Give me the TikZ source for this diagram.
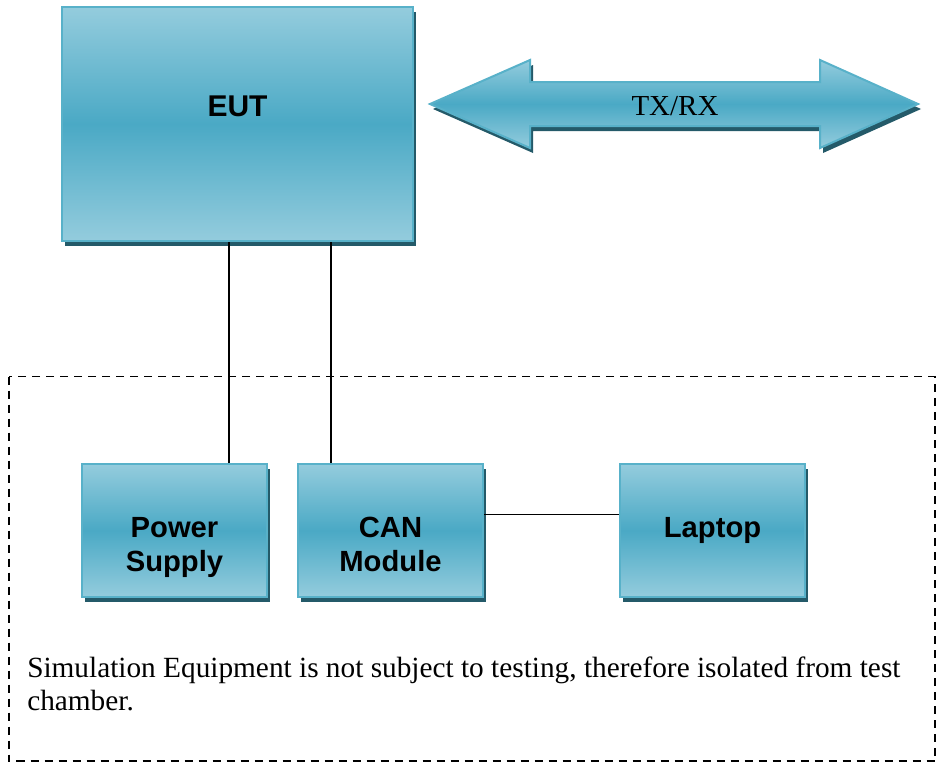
\documentclass[tikz,border=0pt]{standalone}
\usepackage{fontspec}
\setmainfont{Liberation Serif}
\setsansfont{Liberation Sans}
\usetikzlibrary{positioning, shadows}
\definecolor{boxlight}{HTML}{94CCDD}
\definecolor{boxmid}{HTML}{4AA9C5}
\definecolor{boxedge}{HTML}{58B1C9}
\definecolor{boxshade}{HTML}{245A69}
\tikzset{every picture/.style={line width=0.75pt}}

\begin{document}
\begin{tikzpicture}[x=0.5pt, y=-0.5pt,
        bluefill/.style={draw=boxedge, line width=1pt, top color=boxlight, bottom color=boxlight, middle color=boxmid,
            drop shadow={shadow xshift=1.5pt, shadow yshift=-2.5pt, fill=boxshade, opacity=1}},
        unit/.style={bluefill, font=\sffamily\bfseries\fontsize{14.6}{17}\selectfont, align=center, inner sep=0pt},
        device/.style={unit, minimum width=92.5pt, minimum height=66.5pt, text height=10pt, text depth=3.2pt},
        twoline/.style={text height=43.5pt, text depth=3pt},
        wire/.style={line width=0.7pt},
        node distance=14.5pt]
        \useasboundingbox (0,0) rectangle (940,762);

        \node[unit, font=\sffamily\bfseries\fontsize{15}{18}\selectfont, minimum width=175.5pt, minimum height=117pt,
            text height=12pt, text depth=20pt] (eut) at (237.5,124) {EUT};

        % air link
        \path[bluefill] (430,104) -- (530,60) -- (530,82) -- (820,82) -- (820,60) -- (918,104)
            -- (820,148) -- (820,126) -- (530,126) -- (530,148) -- cycle;
        \node[anchor=base, font=\fontsize{14.5}{17}\selectfont] (txrx) at (675,115) {TX/RX};

        % simulation equipment
        \draw[dashed, dash pattern=on 4pt off 3pt, line width=0.65pt] (9,376.5) rectangle (935,761);
        \node[device, twoline] (power) at (174.5,530.5) {Power\\Supply};
        \node[device, twoline, right=of power] (can) {CAN\\Module};
        \node[device, right=67.5pt of can] (laptop) {Laptop};
        \node[anchor=base west, align=left, inner sep=0pt, font=\fontsize{14.65}{16.5}\selectfont] (note) at (26.5,710)
            {Simulation Equipment is not subject to testing, therefore isolated from test\\chamber.};

        \draw[wire] ([xshift=27.25pt]power.north) -- ([xshift=27.25pt]power.north |- eut.south);
        \draw[wire] ([xshift=-29.75pt]can.north) -- ([xshift=-29.75pt]can.north |- eut.south);
        \draw[wire] ([yshift=8pt]can.east) -- ([yshift=8pt]can.east -| laptop.west);
    \end{tikzpicture}
\end{document}
